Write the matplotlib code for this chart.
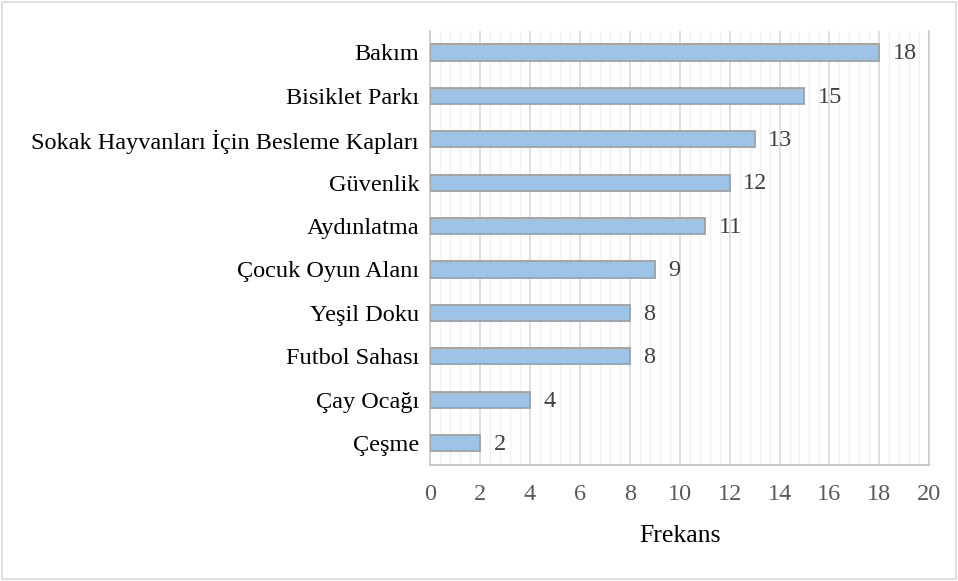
import matplotlib.pyplot as plt
from matplotlib.ticker import MultipleLocator
from matplotlib.patches import Rectangle

categories = ["Bakım", "Bisiklet Parkı", "Sokak Hayvanları İçin Besleme Kapları",
              "Güvenlik", "Aydınlatma", "Çocuk Oyun Alanı", "Yeşil Doku",
              "Futbol Sahası", "Çay Ocağı", "Çeşme"]
values = [18, 15, 13, 12, 11, 9, 8, 8, 4, 2]

plt.rcParams['font.family'] = ['Liberation Serif', 'DejaVu Serif']

fig = plt.figure(figsize=(9.58, 5.81), dpi=100)
ax = fig.add_axes([0.449, 0.200, 0.521, 0.747])

ypos = list(range(len(categories)))[::-1]
ax.barh(ypos, values, height=0.37, color="#9dc3e6", edgecolor="#a0a0a0", linewidth=1.3, zorder=3)

for y, v in zip(ypos, values):
    ax.text(v + 0.55, y - 0.03, str(v), va="center", ha="left", fontsize=17.5, color="#404040")

ax.set_xlim(0, 20)
ax.set_ylim(-0.5, len(categories) - 0.5)
ax.set_yticks(ypos)
ax.set_yticklabels(categories, fontsize=17.5, color="black")
ax.xaxis.set_major_locator(MultipleLocator(2))
ax.xaxis.set_minor_locator(MultipleLocator(0.4))
ax.tick_params(axis="x", which="both", length=0, labelsize=17.5, labelcolor="#595959", pad=14)
ax.tick_params(axis="y", length=0, pad=8)
ax.grid(axis="x", which="major", color="#d9d9d9", linewidth=1.2, zorder=0)
ax.grid(axis="x", which="minor", color="#f0f0f0", linewidth=1.0, zorder=0)
ax.spines["top"].set_visible(False)
for s in ["left", "right", "bottom"]:
    ax.spines[s].set_color("#c8c8c8")
    ax.spines[s].set_linewidth(1.2)
ax.spines["bottom"].set_color("#bfbfbf")
ax.set_xlabel("Frekans", fontsize=18.5, color="black", labelpad=14)

fig.patches.append(Rectangle((0.002, 0.004), 0.996, 0.992, transform=fig.transFigure,
                             fill=False, edgecolor="#d9d9d9", linewidth=1.2))

fig.savefig("out.png", dpi=100)
